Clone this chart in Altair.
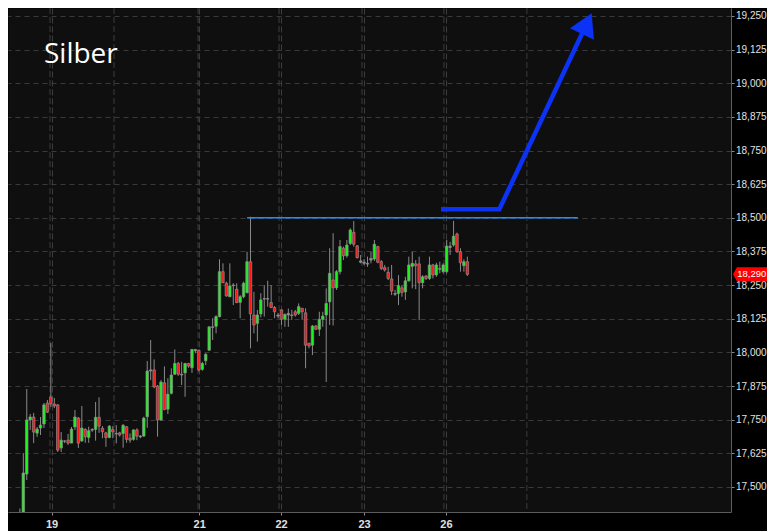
import altair as alt
import pandas as pd

# ---------------- data (hourly candles) ----------------
opens = [17.35, 17.38, 17.548, 17.749, 17.760, 17.700, 17.719, 17.734, 17.812, 17.834,
         17.808, 17.805, 17.645, 17.671, 17.674, 17.663, 17.723, 17.756, 17.671, 17.714,
         17.684, 17.711, 17.714, 17.759, 17.718, 17.701, 17.684, 17.714, 17.699, 17.701,
         17.699, 17.724, 17.681, 17.677, 17.712, 17.689, 17.689, 17.761, 17.931, 17.935,
         17.875, 17.749, 17.887, 17.789, 17.848, 17.919, 17.959, 17.919, 17.924, 17.959,
         17.943, 18.011, 18.008, 17.937, 17.969, 18.008, 18.095, 18.097, 18.133, 18.300,
         18.257, 18.207, 18.248, 18.235, 18.186, 18.207, 18.222, 18.337, 18.139, 18.108,
         18.143, 18.198, 18.200, 18.185, 18.167, 18.139, 18.158, 18.123, 18.145, 18.139,
         18.151, 18.145, 18.164, 18.147, 18.034, 18.027, 18.098, 18.086, 18.123, 18.139,
         18.188, 18.269, 18.240, 18.300, 18.387, 18.359, 18.405, 18.446, 18.396, 18.340,
         18.335, 18.331, 18.343, 18.347, 18.393, 18.337, 18.315, 18.298, 18.273, 18.219,
         18.219, 18.240, 18.225, 18.266, 18.320, 18.329, 18.329, 18.259, 18.284, 18.275,
         18.325, 18.288, 18.312, 18.300, 18.300, 18.395, 18.399, 18.440, 18.374, 18.322,
         18.337]
highs = [17.42, 17.626, 17.864, 17.771, 17.775, 17.723, 17.760, 17.812, 17.823, 18.035,
         17.831, 17.808, 17.704, 17.674, 17.697, 17.723, 17.786, 17.760, 17.801, 17.718,
         17.724, 17.718, 17.816, 17.833, 17.726, 17.705, 17.730, 17.726, 17.730, 17.705,
         17.734, 17.726, 17.699, 17.714, 17.718, 17.693, 17.761, 17.968, 18.046, 17.974,
         17.879, 17.897, 17.948, 17.904, 17.941, 18.011, 17.965, 17.965, 17.961, 17.961,
         18.013, 18.013, 18.011, 17.965, 17.997, 18.097, 18.127, 18.138, 18.346, 18.331,
         18.263, 18.331, 18.257, 18.257, 18.213, 18.263, 18.374, 18.504, 18.225, 18.158,
         18.220, 18.250, 18.266, 18.250, 18.172, 18.147, 18.160, 18.145, 18.163, 18.158,
         18.158, 18.182, 18.164, 18.164, 18.036, 18.102, 18.102, 18.151, 18.151, 18.238,
         18.387, 18.443, 18.306, 18.418, 18.393, 18.418, 18.461, 18.488, 18.399, 18.362,
         18.347, 18.356, 18.374, 18.418, 18.396, 18.343, 18.325, 18.318, 18.325, 18.232,
         18.287, 18.250, 18.281, 18.356, 18.374, 18.343, 18.356, 18.287, 18.287, 18.356,
         18.329, 18.333, 18.337, 18.331, 18.418, 18.411, 18.489, 18.445, 18.387, 18.346,
         18.356]
lows = [17.30, 17.36, 17.526, 17.712, 17.663, 17.686, 17.693, 17.719, 17.775, 17.797,
        17.793, 17.630, 17.630, 17.663, 17.656, 17.663, 17.712, 17.645, 17.667, 17.664,
        17.664, 17.705, 17.672, 17.701, 17.681, 17.649, 17.681, 17.681, 17.662, 17.687,
        17.646, 17.664, 17.664, 17.672, 17.674, 17.681, 17.687, 17.720, 17.897, 17.867,
        17.687, 17.746, 17.785, 17.771, 17.844, 17.916, 17.913, 17.879, 17.835, 17.943,
        17.924, 17.997, 17.929, 17.932, 17.953, 18.006, 18.046, 18.071, 18.130, 18.257,
        18.207, 18.205, 18.176, 18.183, 18.127, 18.201, 18.219, 18.015, 18.071, 18.040,
        18.130, 18.133, 18.170, 18.164, 18.127, 18.127, 18.102, 18.095, 18.095, 18.121,
        18.133, 18.139, 18.121, 17.941, 18.015, 17.990, 18.083, 18.061, 18.095, 17.890,
        18.102, 18.100, 18.232, 18.290, 18.343, 18.352, 18.399, 18.393, 18.349, 18.331,
        18.325, 18.318, 18.331, 18.340, 18.331, 18.306, 18.300, 18.269, 18.213, 18.210,
        18.176, 18.207, 18.195, 18.263, 18.238, 18.235, 18.120, 18.238, 18.269, 18.269,
        18.275, 18.281, 18.294, 18.294, 18.294, 18.362, 18.393, 18.370, 18.300, 18.300,
        18.284]
closes = [17.38, 17.552, 17.749, 17.760, 17.704, 17.715, 17.730, 17.805, 17.778, 17.808,
          17.801, 17.637, 17.674, 17.670, 17.663, 17.715, 17.760, 17.663, 17.719, 17.687,
          17.709, 17.714, 17.759, 17.726, 17.705, 17.684, 17.726, 17.705, 17.697, 17.693,
          17.729, 17.677, 17.674, 17.712, 17.689, 17.686, 17.756, 17.931, 17.935, 17.872,
          17.749, 17.890, 17.788, 17.845, 17.916, 17.959, 17.919, 17.916, 17.959, 17.949,
          18.011, 18.006, 17.935, 17.959, 17.993, 18.095, 18.093, 18.133, 18.300, 18.259,
          18.210, 18.247, 18.250, 18.185, 18.207, 18.257, 18.337, 18.143, 18.102, 18.139,
          18.195, 18.200, 18.198, 18.167, 18.151, 18.135, 18.123, 18.141, 18.139, 18.137,
          18.139, 18.170, 18.151, 18.027, 18.024, 18.098, 18.086, 18.123, 18.135, 18.182,
          18.294, 18.240, 18.300, 18.393, 18.359, 18.399, 18.455, 18.402, 18.352, 18.335,
          18.331, 18.328, 18.349, 18.402, 18.335, 18.312, 18.306, 18.275, 18.228, 18.216,
          18.248, 18.223, 18.266, 18.325, 18.331, 18.322, 18.259, 18.281, 18.275, 18.325,
          18.288, 18.325, 18.309, 18.325, 18.395, 18.390, 18.432, 18.374, 18.333, 18.337,
          18.290]
candle_idx = list(range(1, len(opens) + 1))

y_ticks = [17.5, 17.625, 17.75, 17.875, 18.0, 18.125, 18.25, 18.375, 18.5,
           18.625, 18.75, 18.875, 19.0, 19.125, 19.25]
day_labels = ["19", "21", "22", "23", "26"]
day_ticks = [10.2, 53.1, 76.9, 101.0, 124.8]
session_lines = [9.76, 28.35, 52.76, 76.3, 100.4, 124.2, 148.3]

resistance_level = 18.5
resistance_span = [67.0, 163.1]
arrow_k = [123.35, 140.3, 164.75]
arrow_v = [18.532, 18.532, 19.196]
arrow_head_k = 165.71
arrow_head_v = 19.2215
last_price = 18.29
title_text = "Silber"

x_domain = [-2.45, 207.6]
y_domain = [17.407, 19.2797]

# ---------------- build ----------------
df = pd.DataFrame({"k": candle_idx, "open": opens, "high": highs,
                   "low": lows, "close": closes})
def direction(o, c):
    if abs(c - o) < 0.0065:
        return "flat"
    return "up" if c > o else "down"
df["dir"] = [direction(o, c) for o, c in zip(df["open"], df["close"])]

x_scale = alt.Scale(domain=x_domain, nice=False, zero=False, padding=0)
y_scale = alt.Scale(domain=y_domain, nice=False, zero=False, padding=0)

label_expr = "''"
for pos, lab in reversed(list(zip(day_ticks, day_labels))):
    label_expr = f"abs(datum.value - {pos}) < 0.5 ? '{lab}' : ({label_expr})"

x_axis = alt.Axis(values=day_ticks, tickCount=40, labelExpr=label_expr, orient="bottom",
                  grid=True, gridDash=[6, 3], gridColor="#3c3c3c", gridWidth=1,
                  domainColor="#5c5c5c", tickColor="#8a8a8a", tickSize=3,
                  labelColor="#e0e0e0", labelFontSize=11, labelFontWeight="bold",
                  labelFont="Liberation Sans", labelPadding=3, labelFlush=False,
                  labelOverlap=False)
y_axis = alt.Axis(values=y_ticks, tickCount=40, orient="right",
                  labelExpr="replace(format(datum.value, '.3f'), '.', ',')",
                  grid=True, gridDash=[5, 4], gridColor="#3a3a3a", gridWidth=1,
                  domainColor="#5c5c5c", tickColor="#8a8a8a", tickSize=3,
                  labelColor="#e2e2e2", labelFontSize=10, labelFont="Liberation Sans",
                  labelPadding=1.5, labelFlush=False, labelOverlap=False)

sessions = alt.Chart(pd.DataFrame({"k": session_lines})).mark_rule(
    color="#3c3c3c", strokeDash=[6, 3], strokeWidth=1
).encode(x=alt.X("k:Q", scale=x_scale, title=None))

wicks = alt.Chart(df).mark_rule(color="#8a8a8a", strokeWidth=1, clip=True).encode(
    x=alt.X("k:Q", scale=x_scale, axis=x_axis, title=None),
    y=alt.Y("low:Q", scale=y_scale, axis=y_axis, title=None),
    y2="high:Q",
)

bodies = alt.Chart(df).mark_bar(size=2.5, stroke="#8e8e8e", strokeWidth=0.7,
                                clip=True).encode(
    x=alt.X("k:Q", scale=x_scale, title=None),
    y=alt.Y("open:Q", scale=y_scale, title=None),
    y2="close:Q",
    color=alt.Color("dir:N", scale=alt.Scale(domain=["up", "down", "flat"],
                                             range=["#1cf51c", "#ff1515", "#8e8e8e"]),
                    legend=None),
)

resistance = alt.Chart(pd.DataFrame({"x1": [resistance_span[0]],
                                     "x2": [resistance_span[1]],
                                     "y": [resistance_level]})).mark_rule(
    color="#1e8fff", strokeWidth=1.5
).encode(x=alt.X("x1:Q", scale=x_scale, title=None), x2="x2:Q",
         y=alt.Y("y:Q", scale=y_scale, title=None))

arrow_df = pd.DataFrame({"k": arrow_k, "v": arrow_v, "ord": list(range(len(arrow_k)))})
arrow_line = alt.Chart(arrow_df).mark_line(
    color="#0b32f5", strokeWidth=4.5, strokeJoin="miter", strokeCap="butt"
).encode(x=alt.X("k:Q", scale=x_scale, title=None),
         y=alt.Y("v:Q", scale=y_scale, title=None), order="ord:Q")

arrow_head = alt.Chart(pd.DataFrame({"k": [arrow_head_k], "v": [arrow_head_v]})).mark_point(
    shape="triangle-up", angle=25.3, size=700, filled=True, color="#0b32f5",
    opacity=1, strokeWidth=0
).encode(x=alt.X("k:Q", scale=x_scale, title=None),
         y=alt.Y("v:Q", scale=y_scale, title=None))

title = alt.Chart(pd.DataFrame({"t": [title_text]})).mark_text(
    font="Open Sans", fontSize=28, color="#ffffff", align="left", baseline="alphabetic"
).encode(text="t:N", x=alt.value(36), y=alt.value(55))

tag_df = pd.DataFrame({"p": [last_price],
                       "lab": [f"{last_price:.3f}".replace(".", ",")]})
tag_shape = "M-1,0L-0.765,-0.412L1,-0.412L1,0.412L-0.765,0.412Z"
tag_box = alt.Chart(tag_df).mark_point(
    shape=tag_shape, size=1156, filled=True, color="#ff0000", opacity=1, strokeWidth=0
).encode(x=alt.value(742), y=alt.Y("p:Q", scale=y_scale, title=None))
tag_text = alt.Chart(tag_df).mark_text(
    color="#ffffff", fontSize=9.5, font="Liberation Sans", align="center", baseline="middle"
).encode(x=alt.value(743.8), y=alt.Y("p:Q", scale=y_scale, title=None), text="lab:N")

chart = alt.layer(sessions, wicks, bodies, resistance, arrow_line, arrow_head,
                  title, tag_box, tag_text).properties(
    width=723, height=504,
    autosize=alt.AutoSizeParams(type="none"),
    padding={"left": 0, "top": 0, "right": 36, "bottom": 19},
    background="#000000",
).configure_view(fill="#0f0f0f", stroke="transparent")

chart.save("out.html", embed_options={"renderer": "svg", "actions": False})
